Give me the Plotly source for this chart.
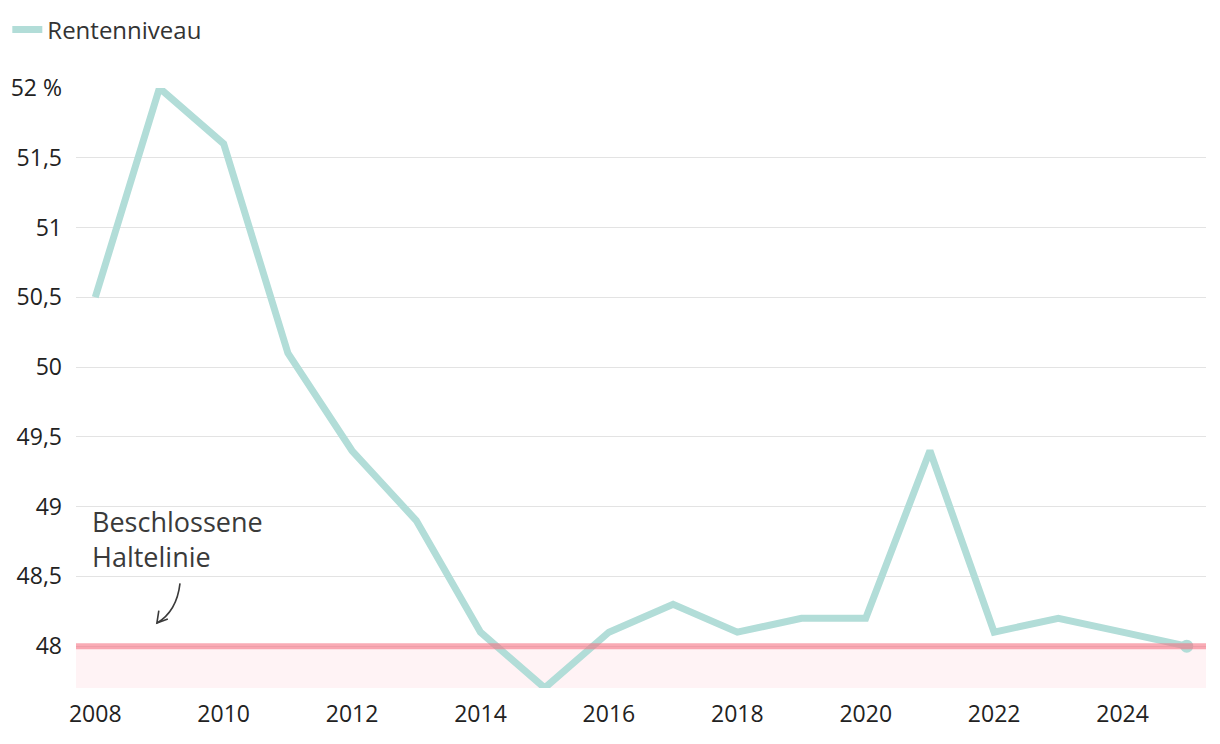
import plotly.graph_objects as go

years = list(range(2008, 2026))
rentenniveau = [50.5, 52.0, 51.6, 50.1, 49.4, 48.9, 48.1, 47.7, 48.1, 48.3, 48.1, 48.2, 48.2, 49.4, 48.1, 48.2, 48.1, 48.0]
haltelinie = 48.0
y_tickvals = [48, 48.5, 49, 49.5, 50, 50.5, 51, 51.5, 52]
y_ticktext = ["48", "48,5", "49", "49,5", "50", "50,5", "51", "51,5", "52 %"]
x_tickvals = list(range(2008, 2025, 2))

teal = "#b2ddd8"
FONT = "Open Sans"

fig = go.Figure()
fig.add_trace(go.Scatter(
    x=years, y=rentenniveau, mode="lines", name="Rentenniveau",
    line=dict(color=teal, width=7), showlegend=True,
))
fig.add_trace(go.Scatter(
    x=[years[-1]], y=[rentenniveau[-1]], mode="markers",
    marker=dict(color=teal, size=13), showlegend=False, hoverinfo="skip",
))

# shaded area below Haltelinie
fig.add_shape(type="rect", xref="paper", yref="y", x0=0, x1=1, y0=47.7, y1=haltelinie,
              fillcolor="#fff3f5", line_width=0, layer="below")
fig.add_shape(type="line", xref="paper", yref="y", x0=0, x1=1, y0=haltelinie, y1=haltelinie,
              line=dict(color="rgba(245,110,128,0.58)", width=6), layer="above")

# annotation
fig.add_annotation(x=2007.92, y=48.77, xref="x", yref="y", text="Beschlossene<br>Haltelinie",
                   showarrow=False, xanchor="left", yanchor="middle", align="left",
                   font=dict(family=FONT, size=27, color="#3a3a3a"))
# curved arrow
fig.add_shape(type="path", xref="x", yref="y",
              path="M 2009.32,48.45 Q 2009.27,48.25 2008.96,48.165",
              line=dict(color="#3a3a3a", width=1.6))
fig.add_shape(type="path", xref="x", yref="y",
              path="M 2008.99,48.255 L 2008.96,48.165 L 2009.13,48.195",
              line=dict(color="#3a3a3a", width=1.6))

fig.update_layout(
    width=1220, height=744,
    margin=dict(l=76, r=14, t=88, b=56),
    paper_bgcolor="white", plot_bgcolor="white",
    font=dict(family=FONT, size=23, color="#222"),
    showlegend=True,
    legend=dict(x=0.006, y=0.99, xref="container", yref="container", xanchor="left", yanchor="top",
                orientation="h", font=dict(family=FONT, size=24, color="#333"),
                bgcolor="rgba(0,0,0,0)", itemwidth=30),
    xaxis=dict(range=[2007.7, 2025.3], tickvals=x_tickvals, showgrid=False, zeroline=False,
               showline=False, ticks="", ticklabelstandoff=10,
               tickfont=dict(family=FONT, size=23, color="#222")),
    yaxis=dict(range=[47.7, 52.0], tickvals=y_tickvals, ticktext=y_ticktext, showgrid=True,
               gridcolor="#e3e3e3", gridwidth=1, zeroline=False, showline=False, ticks="",
               ticklabelstandoff=13, tickfont=dict(family=FONT, size=23, color="#222")),
)

fig.write_html("out.html")
